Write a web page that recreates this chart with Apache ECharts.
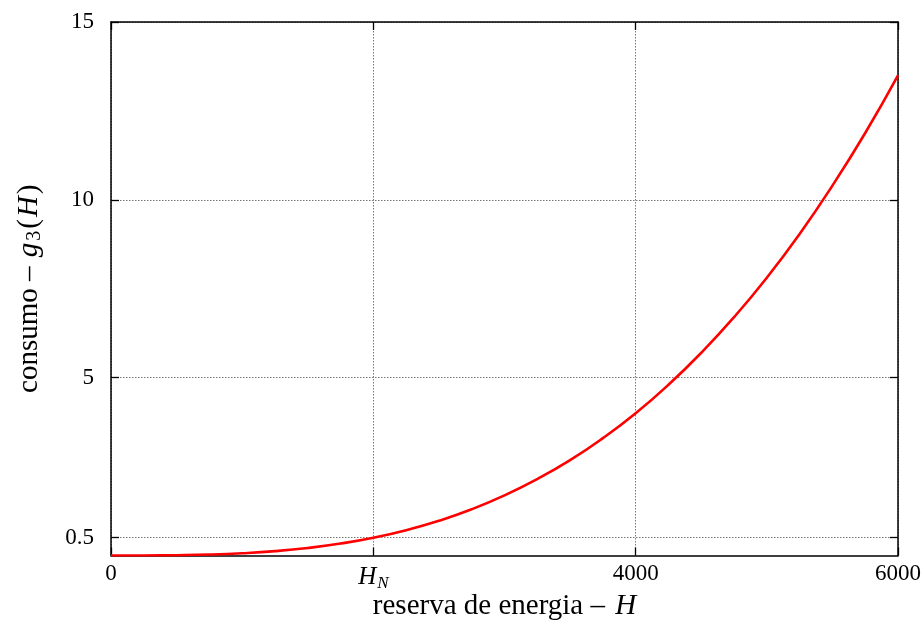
<!DOCTYPE html>
<html>
<head>
<meta charset="utf-8">
<script src="https://cdn.jsdelivr.net/npm/echarts@6/dist/echarts.min.js"></script>
<style>
  html, body { margin: 0; padding: 0; background: #fff; }
  #chart { width: 923px; height: 620px; }
</style>
</head>
<body>
<div id="chart"></div>
<script>
// Energy reserve H and the consumption g3(H) at each reserve level
const reserve = [0, 250, 500, 750, 1000, 1250, 1500, 1750, 2000, 2250, 2500, 2750, 3000,
                 3250, 3500, 3750, 4000, 4250, 4500, 4750, 5000, 5250, 5500, 5750, 6000];
const consumption = [0, 0.001, 0.008, 0.026, 0.063, 0.122, 0.211, 0.335, 0.5, 0.712, 0.977, 1.30, 1.69,
                     2.15, 2.68, 3.30, 4.0, 4.80, 5.70, 6.70, 7.81, 9.04, 10.40, 11.88, 13.5];

// Axis ticks
const xTicks = [0, 2000, 4000, 6000];
const xTickLabels = ['0', '{it|H}{sub|N}', '4000', '6000'];
const yTicks = [0.5, 5, 10, 15];
const yTickLabels = ['0.5', '5', '10', '15'];

const FONT = '"Liberation Serif", "DejaVu Serif", serif';
const chart = echarts.init(document.getElementById('chart'), null, { renderer: 'canvas' });

const frameLine = { show: true, onZero: false, lineStyle: { color: '#000', width: 1.5 } };
const tickInside = { show: true, inside: true, length: 8, lineStyle: { color: '#000', width: 1.3 } };
const gridDots = { show: true, lineStyle: { color: '#777', width: 1, type: [1.5, 1.5] } };
const labelRich = {
  it: { fontFamily: FONT, fontStyle: 'italic', fontSize: 25, color: '#000' },
  sub: { fontFamily: FONT, fontStyle: 'italic', fontSize: 17, color: '#000', padding: [13, 0, 0, 1] }
};

const data = reserve.map((h, i) => [h, consumption[i]]);

chart.setOption({
  animation: false,
  backgroundColor: '#fff',
  grid: { left: 111, right: 25, top: 22, bottom: 64.5, containLabel: false, outerBoundsMode: 'none' },
  xAxis: [
    {
      type: 'value', min: 0, max: 6000, interval: 2000, position: 'bottom',
      axisLine: frameLine,
      axisTick: Object.assign({}, tickInside, { customValues: xTicks }),
      splitLine: gridDots,
      axisLabel: {
        customValues: xTicks,
        margin: 7,
        fontFamily: FONT, fontSize: 23, color: '#000',
        formatter: v => xTickLabels[xTicks.indexOf(v)],
        rich: labelRich
      },
      name: '{t|reserva de energia – }{it|H}',
      nameLocation: 'middle', nameGap: 36, nameMoveOverlap: false,
      nameTextStyle: {
        rich: {
          t: { fontFamily: FONT, fontSize: 29, color: '#000' },
          it: { fontFamily: FONT, fontSize: 29, fontStyle: 'italic', color: '#000', padding: [0, 0, 0, 3] }
        }
      }
    },
    {
      type: 'value', min: 0, max: 6000, interval: 2000, position: 'top',
      axisLine: frameLine,
      axisTick: Object.assign({}, tickInside, { customValues: xTicks }),
      axisLabel: { show: false },
      splitLine: { show: false }
    }
  ],
  yAxis: [
    {
      type: 'value', min: 0, max: 15, position: 'left',
      axisLine: frameLine,
      axisTick: Object.assign({}, tickInside, { customValues: yTicks }),
      splitLine: gridDots,
      axisLabel: {
        customValues: yTicks,
        margin: 17,
        fontFamily: FONT, fontSize: 23, color: '#000',
        formatter: v => yTickLabels[yTicks.indexOf(v)]
      },
      name: '{t|consumo – }{it|g}{sub|3}{t|(}{it|H}{t|)}',
      nameLocation: 'middle', nameGap: 66, nameRotate: 90, nameMoveOverlap: false,
      nameTextStyle: {
        rich: {
          t: { fontFamily: FONT, fontSize: 29, color: '#000' },
          it: { fontFamily: FONT, fontSize: 29, fontStyle: 'italic', color: '#000', padding: [0, 2, 0, 2] },
          sub: { fontFamily: FONT, fontSize: 20, color: '#000', padding: [12, 2, 0, 0] }
        }
      }
    },
    {
      type: 'value', min: 0, max: 15, position: 'right',
      axisLine: frameLine,
      axisTick: Object.assign({}, tickInside, { customValues: yTicks }),
      axisLabel: { show: false },
      splitLine: { show: false }
    }
  ],
  series: [
    {
      type: 'line',
      xAxisIndex: 0, yAxisIndex: 0,
      data: data,
      smooth: true,
      showSymbol: false,
      lineStyle: { color: '#ff0000', width: 2.6 },
      z: 5
    }
  ]
});
</script>
</body>
</html>
